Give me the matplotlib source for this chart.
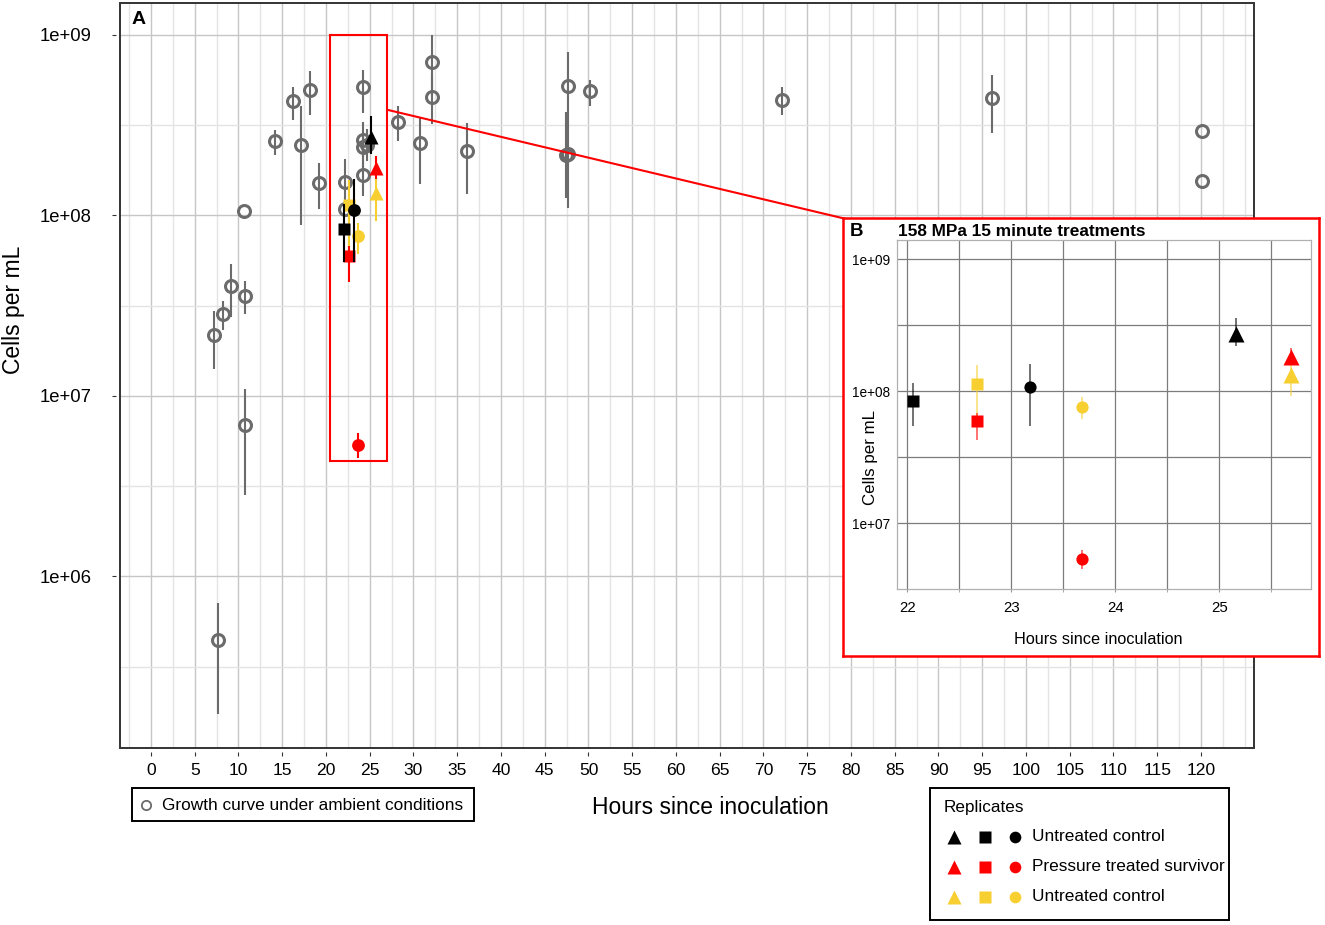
import matplotlib.pyplot as plt
import numpy as np
from matplotlib.lines import Line2D
from matplotlib.patches import Rectangle, ConnectionPatch
from matplotlib.ticker import NullFormatter

plt.rcParams['font.family'] = ['Liberation Sans', 'DejaVu Sans']

# growth curve under ambient conditions
gc_hours = [7.2, 7.7, 8.2, 9.2, 10.7, 10.7, 10.65, 14.2, 16.2, 17.2, 18.2, 19.2,
            22.2, 22.2, 24.2, 24.2, 24.2, 24.65, 24.2, 28.2, 30.7, 32.15, 32.15,
            36.15, 47.45, 47.7, 47.7, 50.2, 72.15, 96.15, 120.15, 120.15]
gc_cells = [2.18e7, 4.47e5, 2.83e7, 4.06e7, 3.58e7, 6.9e6, 1.06e8, 2.59e8, 4.29e8,
            2.47e8, 4.97e8, 1.52e8, 1.53e8, 1.08e8, 5.14e8, 2.62e8, 2.38e8, 2.46e8,
            1.67e8, 3.31e8, 2.51e8, 7.08e8, 4.53e8, 2.29e8, 2.15e8, 2.2e8, 5.19e8,
            4.87e8, 4.38e8, 4.47e8, 2.92e8, 1.55e8]
gc_low = [1.41e7, 1.73e5, 2.31e7, 2.74e7, 2.86e7, 2.83e6, 1.06e8, 2.16e8, 3.38e8,
          8.9e7, 3.6e8, 1.08e8, 1.09e8, 1.08e8, 3.69e8, 2.1e8, 1.7e8, 2.0e8,
          1.28e8, 2.57e8, 1.49e8, 4.6e8, 3.2e8, 1.32e8, 1.25e8, 1.1e8, 3.0e8,
          4.05e8, 3.6e8, 2.86e8, 2.92e8, 1.55e8]
gc_high = [2.94e7, 7.14e5, 3.36e7, 5.41e7, 4.32e7, 1.09e7, 1.06e8, 2.98e8, 5.12e8,
           4.02e8, 6.34e8, 1.95e8, 2.06e8, 1.08e8, 6.41e8, 3.29e8, 2.9e8, 3.0e8,
           2.03e8, 4.02e8, 3.53e8, 1.0e9, 6.0e8, 3.24e8, 3.75e8, 3.0e8, 8.0e8,
           5.65e8, 5.12e8, 6.03e8, 2.92e8, 1.55e8]

# 158 MPa 15 minute treatment replicates
rep_hours = [22.67, 23.68, 25.69, 22.67, 23.68, 25.69, 22.05, 23.18, 25.16]
rep_cells = [1.14e8, 7.65e7, 1.33e8, 5.96e7, 5.37e6, 1.83e8, 8.45e7, 1.07e8, 2.72e8]
rep_low = [6.5e7, 6.15e7, 9.27e7, 4.3e7, 4.53e6, 1.6e8, 5.5e7, 5.5e7, 2.19e8]
rep_high = [1.57e8, 9.1e7, 1.65e8, 6.8e7, 6.24e6, 2.14e8, 1.16e8, 1.6e8, 3.57e8]
rep_color = ['#f8cf30'] * 3 + ['#ff0000'] * 3 + ['#000000'] * 3
rep_shape = ['s', 'o', '^'] * 3

legend_colors = ['#000000', '#ff0000', '#f8cf30']
legend_labels = ['Untreated control', 'Pressure treated survivor', 'Untreated control']

gray = '#6b6b6b'
W, H = 1325, 925
fig = plt.figure(figsize=(W / 100, H / 100), dpi=100)


def box(l, t, r, b):
    return [l / W, 1 - b / H, (r - l) / W, (b - t) / H]


def fpt(x, y):
    return x / W, 1 - y / H


# ---- panel A
ax = fig.add_axes(box(120, 3, 1253.5, 748.3))
ax.set_zorder(0)
ax.set_yscale('log')
ax.set_xlim(-3.54, 126.0)
ax.set_ylim(10 ** 5.048, 10 ** 9.177)

xmaj = np.arange(0, 121, 5)
ax.set_xticks(xmaj)
ax.set_xticks([v for v in np.arange(-2.5, 126, 2.5) if v not in xmaj], minor=True)
ax.set_yticks([1e6, 1e7, 1e8, 1e9])
ax.set_yticklabels(['1e+06', '1e+07', '1e+08', '1e+09'])
ax.set_yticks([10 ** 5.5, 10 ** 6.5, 10 ** 7.5, 10 ** 8.5], minor=True)
ax.yaxis.set_minor_formatter(NullFormatter())
ax.grid(which='major', color='#c6c6c6', lw=1.0)
ax.grid(which='minor', color='#e4e4e4', lw=1.0)
ax.set_axisbelow(True)

for s in ax.spines.values():
    s.set_visible(False)
ax.spines['left'].set_position(('outward', 3))
ax.spines['bottom'].set_position(('outward', 2.5))
ax.add_patch(Rectangle((0, 0), 1, 1, transform=ax.transAxes, fill=False,
                       ec='#333333', lw=1.4, clip_on=False, zorder=6))
ax.tick_params(which='major', direction='out', length=2.9, width=0.8, color='#333333')
ax.tick_params(which='minor', length=0)
ax.tick_params(axis='x', labelsize=12.6, pad=5.2)
ax.tick_params(axis='y', labelsize=13.3, pad=14.5)

gc_c = np.array(gc_cells)
ax.errorbar(gc_hours, gc_cells, yerr=[gc_c - np.array(gc_low), np.array(gc_high) - gc_c],
            fmt='none', ecolor=gray, elinewidth=1.5, capsize=0, zorder=2)
ax.plot(gc_hours, gc_cells, 'o', ms=8.6, mfc='none', mec=gray, mew=2.2, zorder=3)

main_ms = {'s': 8.0, 'o': 9.2, '^': 10.2}
for hx, cy, lo, hi, col, mk in zip(rep_hours, rep_cells, rep_low, rep_high, rep_color, rep_shape):
    ax.errorbar([hx], [cy], yerr=[[cy - lo], [hi - cy]], fmt='none', ecolor=col,
                elinewidth=1.5, capsize=0, zorder=4)
    ax.plot([hx], [cy], mk, ms=main_ms[mk], color=col, mec='none', zorder=4)

ax.add_patch(Rectangle((20.5, 4.37e6), 6.5, 1e9 - 4.37e6, fill=False, ec='#ff0000',
                       lw=1.5, zorder=5))

fig.text(*fpt(132, 19.7), 'A', fontsize=14, fontweight='bold', ha='left', va='center')
fig.text(*fpt(710, 808), 'Hours since inoculation', fontsize=16.5, ha='center', va='center')
fig.text(*fpt(13.5, 310), 'Cells per mL', fontsize=16.5, rotation=90, ha='center', va='center')

# ---- panel B (inset)
frame = fig.add_axes(box(843.3, 218.3, 1319, 655.7))
frame.set_zorder(1)
frame.set_facecolor('white')
frame.set_xticks([])
frame.set_yticks([])
for s in frame.spines.values():
    s.set_color('#ff0000')
    s.set_linewidth(1.8)

con = ConnectionPatch(xyA=(27, 3.85e8), coordsA=ax.transData, xyB=(0, 1),
                      coordsB=frame.transAxes, color='#ff0000', lw=1.5, zorder=0.5)
fig.add_artist(con)

iax = fig.add_axes(box(896.7, 240, 1310.7, 589.3))
iax.set_zorder(2)
iax.set_yscale('log')
iax.set_xlim(21.898, 25.879)
iax.set_ylim(10 ** 6.5, 10 ** 9.146)
iax.set_xticks([22, 23, 24, 25])
iax.set_xticks([22.5, 23.5, 24.5, 25.5], minor=True)
iax.set_yticks([1e7, 1e8, 1e9])
iax.set_yticklabels(['1e+07', '1e+08', '1e+09'])
iax.set_yticks([10 ** 7.5, 10 ** 8.5], minor=True)
iax.yaxis.set_minor_formatter(NullFormatter())
iax.grid(which='both', color='#7c7c7c', lw=0.9)
iax.set_axisbelow(True)
for s in iax.spines.values():
    s.set_color('#b0b0b0')
    s.set_linewidth(0.9)
iax.tick_params(axis='x', which='both', length=2.5, color='#999999', labelsize=10.8, pad=6)
iax.tick_params(axis='y', which='both', length=0, labelsize=9.8, pad=4.5)

in_ms = {'s': 9.3, 'o': 8.8, '^': 11.2}
for hx, cy, lo, hi, col, mk in zip(rep_hours, rep_cells, rep_low, rep_high, rep_color, rep_shape):
    iax.errorbar([hx], [cy], yerr=[[cy - lo], [hi - cy]], fmt='none', ecolor=col,
                 elinewidth=1.3, alpha=0.6, capsize=0, zorder=3)
    iax.plot([hx], [cy], mk, ms=in_ms[mk], color=col, mec='none', zorder=4)

fig.text(*fpt(850, 231), 'B', fontsize=13.4, fontweight='bold', ha='left', va='center', zorder=5)
fig.text(*fpt(898, 231), '158 MPa 15 minute treatments', fontsize=12.4, fontweight='bold',
         ha='left', va='center', zorder=5)
fig.text(*fpt(870, 457), 'Cells per mL', fontsize=12.2, rotation=90, ha='center', va='center', zorder=5)
fig.text(*fpt(1098, 639), 'Hours since inoculation', fontsize=11.7, ha='center', va='center', zorder=5)

# ---- legends
x0, y0 = fpt(131.7, 821)
fig.add_artist(Rectangle((x0, y0), (474.3 - 131.7) / W, (821 - 787.7) / H,
                         transform=fig.transFigure, fill=False, ec='black', lw=1.4))
fig.add_artist(Line2D(*[[v] for v in fpt(146, 805)], transform=fig.transFigure, marker='o',
                      ms=6.7, mfc='none', mec=gray, mew=1.3, ls='none'))
fig.text(*fpt(161.7, 805), 'Growth curve under ambient conditions', fontsize=12.4,
         ha='left', va='center')

x0, y0 = fpt(929.7, 920)
fig.add_artist(Rectangle((x0, y0), (1228.5 - 929.7) / W, (920 - 788.3) / H,
                         transform=fig.transFigure, fill=False, ec='black', lw=1.4))
fig.text(*fpt(944, 807.3), 'Replicates', fontsize=12.3, ha='left', va='center')
leg_ms = {'^': 9.4, 's': 8.6, 'o': 8.4}
for i, (col, lab) in enumerate(zip(legend_colors, legend_labels)):
    ry = 836.7 + 30 * i
    for mx, mk in zip([954, 984.7, 1015.3], ['^', 's', 'o']):
        fig.add_artist(Line2D(*[[v] for v in fpt(mx, ry)], transform=fig.transFigure,
                              marker=mk, ms=leg_ms[mk], color=col, mec='none', ls='none'))
    fig.text(*fpt(1032, ry), lab, fontsize=12.4, ha='left', va='center')

fig.savefig('out.png', dpi=100)
